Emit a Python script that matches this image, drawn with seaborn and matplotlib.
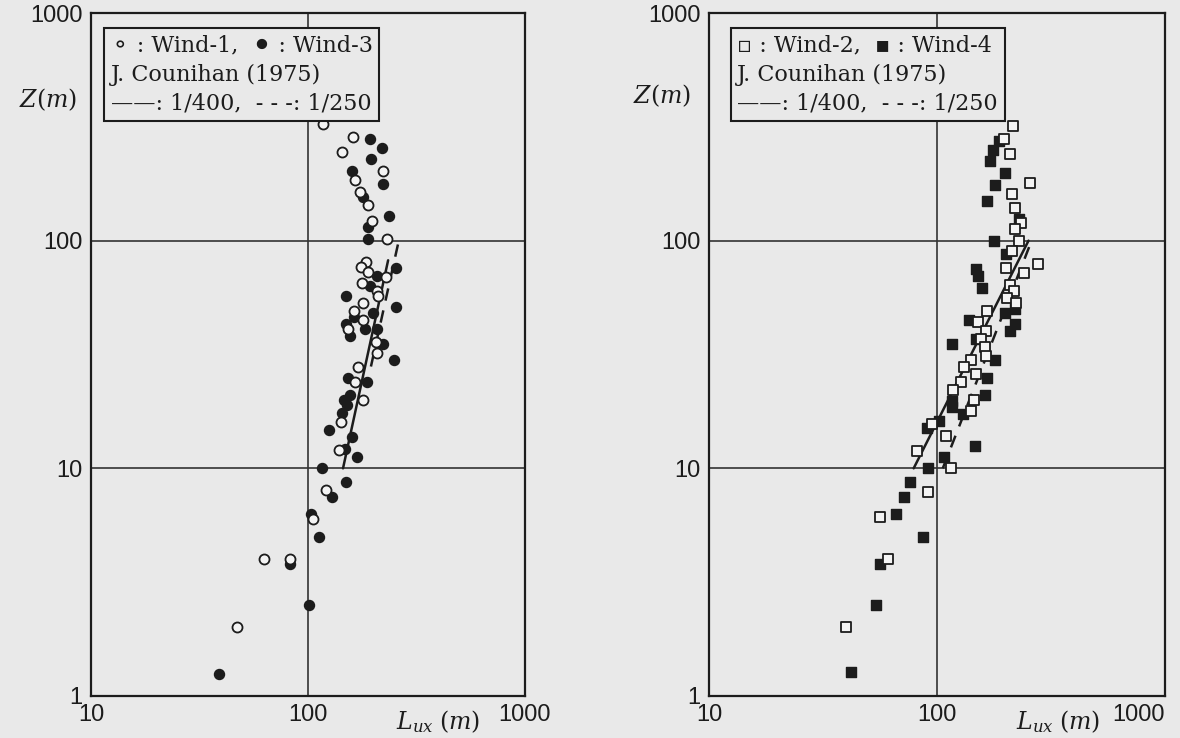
import pandas as pd
import seaborn as sns
import matplotlib.pyplot as plt
from matplotlib.ticker import NullLocator

# Left panel: Wind-1 (open circles) and Wind-3 (filled circles), Lux (m) vs Z (m)
wind1_lux = [117, 161, 144, 222, 165, 174, 189, 197, 231, 185, 175, 189, 229, 177, 208, 210, 179, 163, 179,
             153, 206, 208, 170, 165, 179, 142, 139, 121, 105, 63, 83, 47]
wind1_z = [324, 285, 245, 203, 184, 164, 143, 122, 102, 81, 77, 73, 69, 65, 60, 57, 53, 49, 45,
           41, 36, 32, 28, 24, 20, 16, 12, 8.0, 6.0, 4.0, 4.0, 2.0]

wind3_lux = [193, 219, 195, 160, 222, 179, 236, 189, 189, 255, 208, 193, 150, 255, 199, 163, 150, 183, 208,
             156, 222, 249, 153, 187, 156, 147, 151, 144, 125, 160, 148, 168, 116, 150, 129, 103, 112, 83,
             101, 39]
wind3_z = [279, 254, 228, 203, 178, 155, 128, 115, 102, 76, 70, 63, 57, 51, 48, 46, 43, 41, 41,
           38, 35, 30, 25, 24, 21, 20, 19, 17.5, 14.8, 13.7, 12.1, 11.2, 10, 8.7, 7.5, 6.3, 5.0, 3.8,
           2.5, 1.25]

# Right panel: Wind-2 (open squares) and Wind-4 (filled squares)
wind2_lux = [215, 196, 210, 255, 213, 219, 233, 219, 228, 213, 276, 200, 240, 210, 217, 202, 221, 165, 151,
             164, 156, 162, 164, 141, 132, 148, 127, 117, 145, 141, 95, 109, 82, 115, 91, 56, 61, 40]
wind2_z = [318, 279, 240, 179, 160, 139, 120, 112, 100, 90, 79, 76, 72, 64, 60, 56, 53, 49, 44,
           40, 37, 34, 31, 30, 28, 26, 24, 22, 20, 17.8, 15.7, 13.8, 11.9, 10, 7.9, 6.1, 4.0, 2.0]

wind4_lux = [187, 176, 170, 198, 179, 165, 228, 177, 200, 148, 151, 157, 219, 198, 138, 219, 210, 148, 116,
             179, 165, 162, 116, 116, 130, 102, 90, 147, 107, 91, 76, 72, 66, 87, 56, 54, 42]
wind4_z = [273, 250, 223, 198, 176, 150, 125, 100, 87, 75, 70, 62, 50, 48, 45, 43, 40, 37, 35,
           30, 25, 21, 19.8, 18.6, 17.4, 16.2, 15, 12.5, 11.2, 10, 8.7, 7.5, 6.3, 5.0, 3.8, 2.5, 1.27]

# J. Counihan (1975) lines, end points (Lux, Z)
left_solid_lux, left_solid_z = [145, 234], [10, 82]
left_dash_lux, left_dash_z = [195, 262], [28, 100]
right_solid_lux, right_solid_z = [79, 252], [10, 100]
right_dash_lux, right_dash_z = [106, 260], [10, 100]

x_ticks = [10, 100, 1000]
y_ticks = [1, 10, 100, 1000]

bg = "#e9e9e9"
ink = "#1c1c1c"

sns.set_theme(style="white")
plt.rcParams.update({
    "figure.facecolor": bg,
    "axes.facecolor": bg,
    "mathtext.fontset": "dejavuserif",
})
plt.rcParams["font.family"] = ["Liberation Sans", "DejaVu Sans"]

fig = plt.figure(figsize=(11.8, 7.38), dpi=100)
ax1 = fig.add_axes([91 / 1180, 1 - 696 / 738, 434 / 1180, 683 / 738])
ax2 = fig.add_axes([709 / 1180, 1 - 696 / 738, 456 / 1180, 683 / 738])

panels = [
    (ax1, "o", wind1_lux, wind1_z, wind3_lux, wind3_z,
     left_solid_lux, left_solid_z, left_dash_lux, left_dash_z,
     "⚬ : Wind-1,  ⚫ : Wind-3\nJ. Counihan (1975)\n——: 1/400,  - - -: 1/250", 0.045),
    (ax2, "s", wind2_lux, wind2_z, wind4_lux, wind4_z,
     right_solid_lux, right_solid_z, right_dash_lux, right_dash_z,
     "▫ : Wind-2,  ▪ : Wind-4\nJ. Counihan (1975)\n——: 1/400,  - - -: 1/250", 0.062),
]

for i, (ax, mk, ox, oy, fx, fy, slx, sly, dlx, dly, legend_txt, lx) in enumerate(panels):
    ax.set_xscale("log")
    ax.set_yscale("log")

    sns.lineplot(x=slx, y=sly, ax=ax, color=ink, lw=1.8, zorder=3)
    sns.lineplot(x=dlx, y=dly, ax=ax, color=ink, lw=1.8, linestyle=(0, (5, 4)), zorder=3)

    sns.scatterplot(x=fx, y=fy, ax=ax, marker=mk, s=52, color=ink, edgecolor=ink,
                    linewidth=1.0, zorder=4)
    sns.scatterplot(x=ox, y=oy, ax=ax, marker=mk, s=52, color="#f4f4f4", edgecolor=ink,
                    linewidth=1.3, zorder=5)

    ax.set_xlim(10, 1000)
    ax.set_ylim(1, 1000)
    ax.set_xticks(x_ticks)
    ax.set_xticklabels([str(t) for t in x_ticks])
    ax.set_yticks(y_ticks)
    ax.set_yticklabels([str(t) for t in y_ticks])
    ax.xaxis.set_minor_locator(NullLocator())
    ax.yaxis.set_minor_locator(NullLocator())
    ax.tick_params(length=0, labelsize=17, pad=6, colors=ink)
    if i == 1:
        ax.get_xticklabels()[-1].set_ha("right")
    ax.set_xlabel("")
    ax.set_ylabel("")

    ax.axvline(100, color="#333333", lw=1.2, zorder=1)
    for v in [10, 100]:
        ax.axhline(v, color="#333333", lw=1.2, zorder=1)
    for s in ax.spines.values():
        s.set_color(ink)
        s.set_linewidth(1.6)

    ax.text(lx, 0.968, legend_txt, transform=ax.transAxes, va="top", ha="left",
            fontsize=16, family=["DejaVu Serif", "DejaVu Sans"], color=ink, linespacing=1.4,
            zorder=6,
            bbox=dict(boxstyle="square,pad=0.3", fc=bg, ec=ink, lw=1.5))

# axis titles
fig.text(48 / 1180, 1 - 100 / 738, r"$Z(m)$", fontsize=17, ha="center", va="center", color=ink)
fig.text(662 / 1180, 1 - 96 / 738, r"$Z(m)$", fontsize=17, ha="center", va="center", color=ink)
fig.text(438 / 1180, 1 - 722 / 738, r"$L_{ux}$ $(m)$", fontsize=17, ha="center", va="center", color=ink)
fig.text(1058 / 1180, 1 - 722 / 738, r"$L_{ux}$ $(m)$", fontsize=17, ha="center", va="center", color=ink)

plt.savefig("out.png", dpi=100, facecolor=bg)
